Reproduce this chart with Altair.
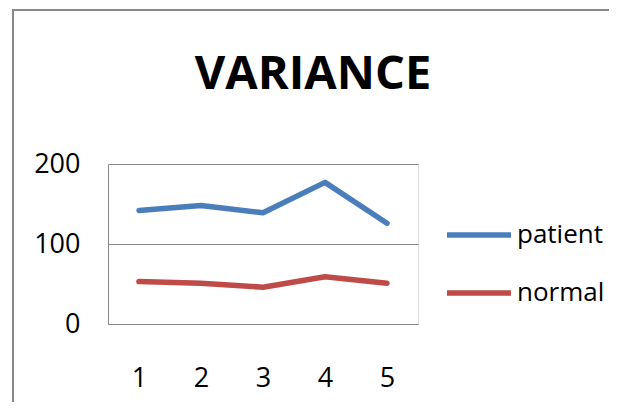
import altair as alt
import pandas as pd

categories = [1, 2, 3, 4, 5]
patient = [142, 148, 139, 177, 126]
normal = [53, 51, 46, 59, 51]
series_names = ["patient", "normal"]
series_colors = ["#4A7EBB", "#BE4B48"]

rows = []
for c, p, n in zip(categories, patient, normal):
    rows.append({"cat": c, "series": "patient", "value": p})
    rows.append({"cat": c, "series": "normal", "value": n})
df = pd.DataFrame(rows)

FONT = "Open Sans"

lines = alt.Chart(df).mark_line(strokeWidth=5.5, strokeCap="round", strokeJoin="round").encode(
    x=alt.X("cat:O", title=None,
            scale=alt.Scale(paddingInner=0, paddingOuter=0),
            axis=alt.Axis(labelAngle=0, domain=False, ticks=False, grid=False,
                          labelFont=FONT, labelFontSize=27, labelColor="#000000",
                          labelPadding=41)),
    y=alt.Y("value:Q", title=None,
            scale=alt.Scale(domain=[0, 200], nice=False),
            axis=alt.Axis(values=[0, 100, 200], domain=True, domainColor="#888888",
                          domainWidth=1, ticks=False, grid=True, gridColor="#888888",
                          gridWidth=1, gridOpacity=1,
                          labelFont=FONT, labelFontSize=27, labelColor="#000000",
                          labelPadding=28)),
    color=alt.Color("series:N", scale=alt.Scale(domain=series_names, range=series_colors),
                    sort=series_names,
                    legend=alt.Legend(title=None, orient="none", legendX=336, legendY=36,
                                      symbolType="stroke", symbolSize=4096,
                                      symbolStrokeWidth=5.5, rowPadding=10,
                                      labelFont=FONT, labelFontSize=26,
                                      labelColor="#000000", labelOffset=3,
                                      padding=0)),
)

frame = alt.Chart(pd.DataFrame({"v": [0]})).mark_rect(
    fill=None, stroke="#888888", strokeWidth=2, clip=False
).encode(
    x=alt.value(-95), x2=alt.value(504), y=alt.value(-154), y2=alt.value(260)
)

chart = alt.layer(frame, lines).properties(
    width=310,
    height=160,
    autosize=alt.AutoSizeParams(type="none"),
    padding={"left": 100, "top": 156, "right": 191, "bottom": 78},
    title=alt.TitleParams("VARIANCE", font=FONT, fontSize=47, fontWeight="bold",
                          color="#000000", anchor="middle", dx=50, offset=-137,
                          baseline="bottom"),
).configure_view(stroke=None).configure(background="#ffffff")

chart.save("out.html", embed_options={"renderer": "svg", "actions": False})
